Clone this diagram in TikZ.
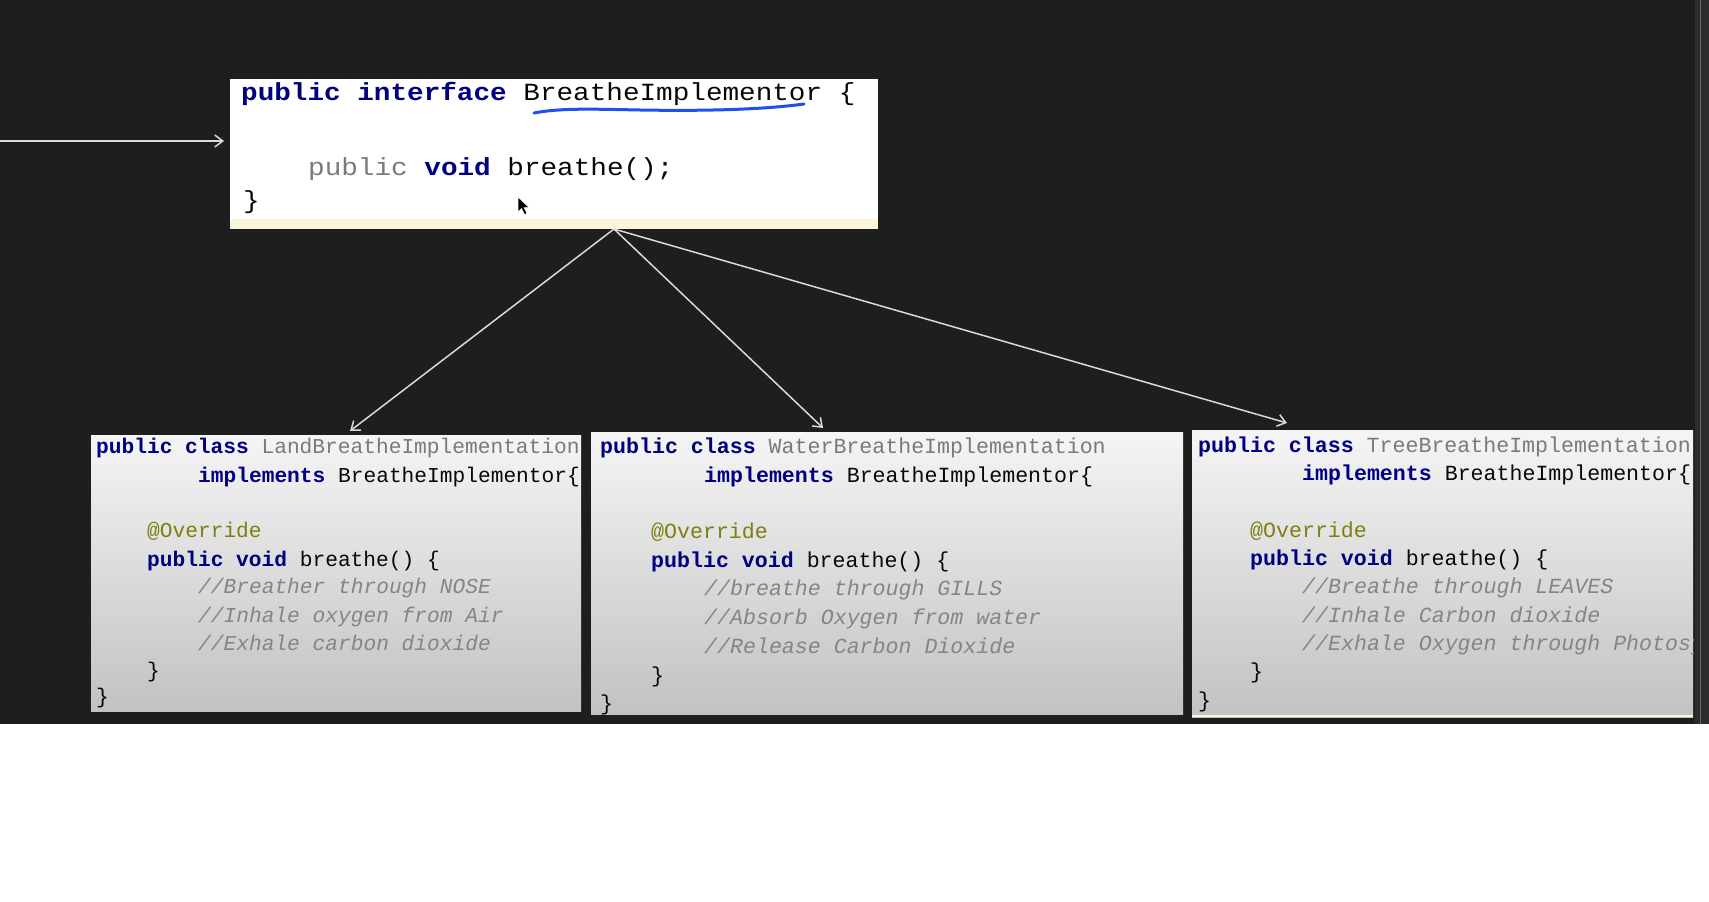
\documentclass[tikz,border=0pt]{standalone}
\usepackage{fontspec}
\usetikzlibrary{arrows.meta}
\newfontfamily\codefont{Liberation Mono}
\newfontfamily\topcodefont[FakeStretch=1.12]{Liberation Mono}
\definecolor{bgdark}{HTML}{1E1E1E}
\definecolor{stripe}{HTML}{2C2C2C}
\definecolor{kwnavy}{HTML}{000080}
\definecolor{clsgray}{HTML}{7A7A7A}
\definecolor{cmgray}{HTML}{858585}
\definecolor{annol}{HTML}{7F7F10}
\definecolor{txtblk}{HTML}{080808}
\definecolor{connc}{HTML}{DADADA}
\definecolor{penblue}{HTML}{1F4FF0}
\definecolor{strip}{HTML}{FAF6DC}
\newcommand{\jkw}[1]{{\bfseries\color{kwnavy}#1}}
\newcommand{\jcls}[1]{{\color{clsgray}#1}}
\newcommand{\jcm}[1]{{\itshape\color{cmgray}#1}}
\newcommand{\jan}[1]{{\color{annol}#1}}
\begin{document}
\begin{tikzpicture}[x=1pt,y=-1pt,
  codebox/.style={draw=none,inner sep=0pt,anchor=north west,top color=white!96!black,bottom color=white!76!black},
  topbox/.style={draw=none,fill=white,inner sep=0pt,anchor=north west},
  topline/.style={inner sep=0pt,anchor=base west,text=txtblk,font=\topcodefont\fontsize{24.7}{24.7}\selectfont},
  landline/.style={inner sep=0pt,anchor=base west,text=txtblk,font=\codefont\fontsize{21.2}{21.2}\selectfont},
  wline/.style={inner sep=0pt,anchor=base west,text=txtblk,font=\codefont\fontsize{21.6}{21.6}\selectfont},
  conn/.style={draw=connc,line width=1.5pt,-{Straight Barb[length=8pt,width=12pt,line width=1.5pt]}}]
\useasboundingbox (0,0) rectangle (1709,902);
\fill[white] (0,0) rectangle (1709,902);
\fill[bgdark] (0,0) rectangle (1695,724);
\fill[stripe] (1695,0) rectangle (1709,724);
\draw[black!60,line width=1pt] (1700,0) -- (1700,724);

% top interface box
\node[topbox,minimum width=648pt,minimum height=150pt] (top) at (230,79) {};
\fill[strip] (230,219) rectangle (878,229);
\node[topline] (t1) at (241,100) {\jkw{public interface} BreatheImplementor \{};
\node[topline] (t2) at (308,175) {{\color{clsgray}public} \jkw{void} breathe();};
\node[topline] (t3) at (243,208) {\}};
\draw[penblue,line width=3pt,line cap=round] (534,113) .. controls (560,108) and (590,109) .. (640,110) .. controls (700,111) and (760,110) .. (804,104);
% mouse cursor
\fill[black,draw=white,line width=0.5pt] (518,197) -- (518,212) -- (521.5,208.5) -- (524.5,214.5) -- (527,213.3) -- (524,207.5) -- (529,207.5) -- cycle;

% land box
\node[codebox,minimum width=490pt,minimum height=276pt] (land) at (91,435) {};
\begin{scope}
\clip (91,435) rectangle (581,711);
\node[landline] (l1) at (96,453) {\jkw{public class} \jcls{LandBreatheImplementation}};
\node[landline] (l2) at (198,482) {\jkw{implements} BreatheImplementor\{};
\node[landline] (l3) at (147,537) {\jan{@Override}};
\node[landline] (l4) at (147,566) {\jkw{public void} breathe() \{};
\node[landline] (l5) at (198,593) {\jcm{//Breather through NOSE}};
\node[landline] (l6) at (198,622) {\jcm{//Inhale oxygen from Air}};
\node[landline] (l7) at (198,650) {\jcm{//Exhale carbon dioxide}};
\node[landline] (l8) at (147,677) {\}};
\node[landline] (l9) at (96,703) {\}};
\end{scope}

% water box
\node[codebox,minimum width=592pt,minimum height=282pt] (water) at (591,432) {};
\begin{scope}
\clip (591,432) rectangle (1183,714);
\node[wline] (w1) at (600,453) {\jkw{public class} \jcls{WaterBreatheImplementation}};
\node[wline] (w2) at (704,482) {\jkw{implements} BreatheImplementor\{};
\node[wline] (w3) at (651,538) {\jan{@Override}};
\node[wline] (w4) at (651,567) {\jkw{public void} breathe() \{};
\node[wline] (w5) at (704,595) {\jcm{//breathe through GILLS}};
\node[wline] (w6) at (704,624) {\jcm{//Absorb Oxygen from water}};
\node[wline] (w7) at (704,653) {\jcm{//Release Carbon Dioxide}};
\node[wline] (w8) at (651,682) {\}};
\node[wline] (w9) at (600,710) {\}};
\end{scope}

% tree box
\node[codebox,minimum width=501pt,minimum height=287pt] (tree) at (1192,430) {};
\fill[strip] (1192,715) rectangle (1693,717);
\begin{scope}
\clip (1192,430) rectangle (1693,717);
\node[wline] (r1) at (1198,452) {\jkw{public class} \jcls{TreeBreatheImplementation}};
\node[wline] (r2) at (1302,480) {\jkw{implements} BreatheImplementor\{};
\node[wline] (r3) at (1250,537) {\jan{@Override}};
\node[wline] (r4) at (1250,565) {\jkw{public void} breathe() \{};
\node[wline] (r5) at (1302,593) {\jcm{//Breathe through LEAVES}};
\node[wline] (r6) at (1302,622) {\jcm{//Inhale Carbon dioxide}};
\node[wline] (r7) at (1302,650) {\jcm{//Exhale Oxygen through Photosynthesis}};
\node[wline] (r8) at (1250,678) {\}};
\node[wline] (r9) at (1198,707) {\}};
\end{scope}

% connectors
\coordinate (hub) at (614,229);
\coordinate (incoming) at (0,141);
\coordinate (topin) at (224,141);
\coordinate (landtip) at (350,431);
\coordinate (watertip) at (823,428);
\coordinate (treetip) at (1287,423);
\draw[conn] (incoming) -- (topin);
\draw[conn] (hub) -- (landtip);
\draw[conn] (hub) -- (watertip);
\draw[conn] (hub) -- (treetip);
\end{tikzpicture}
\end{document}
